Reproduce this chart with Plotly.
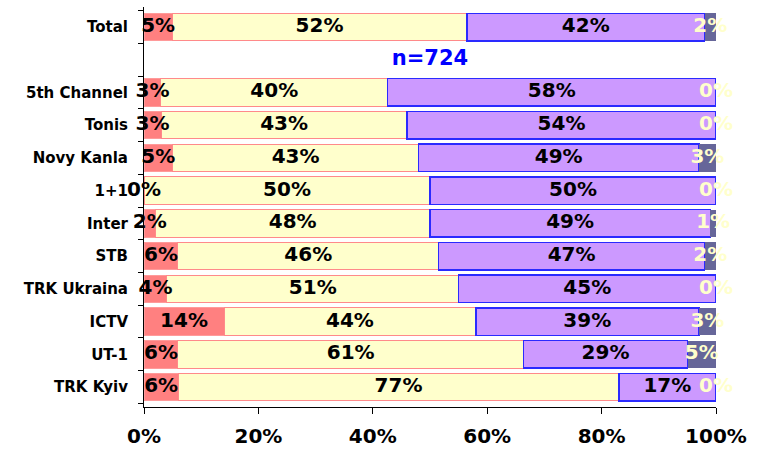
import plotly.graph_objects as go

# Data (percent shares as labelled in the chart), bottom row first
categories = ["TRK Kyiv", "UT-1", "ICTV", "TRK Ukraina", "STB", "Inter",
              "1+1", "Novy Kanla", "Tonis", "5th Channel", " ", "Total"]
# " " is the empty slot holding the sample-size note
seg1 = [6, 6, 14, 4, 6, 2, 0, 5, 3, 3, None, 5]
seg2 = [77, 61, 44, 51, 46, 48, 50, 43, 43, 40, None, 52]
seg3 = [17, 29, 39, 45, 47, 49, 50, 49, 54, 58, None, 42]
seg4 = [0, 5, 3, 0, 2, 1, 0, 3, 0, 0, None, 2]
note_text = "n=724"
x_ticks = [0, 20, 40, 60, 80, 100]
x_tick_labels = ["0%", "20%", "40%", "60%", "80%", "100%"]

series = [seg1, seg2, seg3, seg4]
fills = ["#FF8080", "#FFFFCC", "#CC99FF", "#666699"]
borders = ["#FF9A9A", "#FF8A8A", "#2A2AFF", "#666699"]
border_w = [1, 1, 1.5, 0]
label_colors = ["#000000", "#000000", "#000000", "#FFFFCC"]

FONT = "DejaVu Sans"

fig = go.Figure()

rows = [i for i, c in enumerate(categories) if seg1[i] is not None]

for s, fc, bc, bw in zip(series, fills, borders, border_w):
    fig.add_trace(go.Bar(
        y=[categories[i] for i in rows], x=[s[i] for i in rows],
        orientation="h", marker=dict(color=fc, line=dict(color=bc, width=bw)),
        hoverinfo="skip", showlegend=False))

# centred value labels (computed from the normalised stack)
for k, (s, lc) in enumerate(zip(series, label_colors)):
    xs, ys, ts = [], [], []
    for i in rows:
        tot = sum(series[j][i] for j in range(4))
        start = sum(series[j][i] for j in range(k))
        xs.append((start + s[i] / 2) / tot * 100)
        ys.append(categories[i])
        ts.append(f"{s[i]}%")
    fig.add_trace(go.Scatter(
        x=xs, y=ys, text=ts, mode="text", cliponaxis=False,
        textposition="middle center",
        textfont=dict(family=FONT, size=20, color=lc, weight="bold"),
        hoverinfo="skip", showlegend=False))

fig.add_trace(go.Scatter(
    x=[50], y=[" "], text=[note_text], mode="text", cliponaxis=False,
    textfont=dict(family=FONT, size=21, color="#0000FF", weight="bold"),
    hoverinfo="skip", showlegend=False))

fig.update_layout(
    width=757, height=450,
    margin=dict(l=144, r=41, t=7, b=43),
    barmode="stack", barnorm="percent", bargap=0.16,
    plot_bgcolor="white", paper_bgcolor="white",
    xaxis=dict(range=[0, 100], tickmode="array", tickvals=x_ticks,
               ticktext=x_tick_labels, automargin=False,
               showgrid=False, zeroline=False, showline=True,
               linecolor="black", linewidth=1, ticks="outside", ticklen=6,
               tickcolor="black", ticklabelstandoff=5,
               tickfont=dict(family=FONT, size=20, color="black", weight="bold")),
    yaxis=dict(type="category", categoryorder="array", categoryarray=categories,
               showgrid=False, zeroline=False, showline=True, automargin=False,
               linecolor="black", linewidth=1, ticks="outside", ticklen=5,
               tickcolor="black", tickson="boundaries", ticklabelstandoff=12,
               tickfont=dict(family=FONT, size=15, color="black", weight="bold")),
)

fig.write_html("out.html", config={"displayModeBar": False},
               post_script="document.body.style.margin='0';")
